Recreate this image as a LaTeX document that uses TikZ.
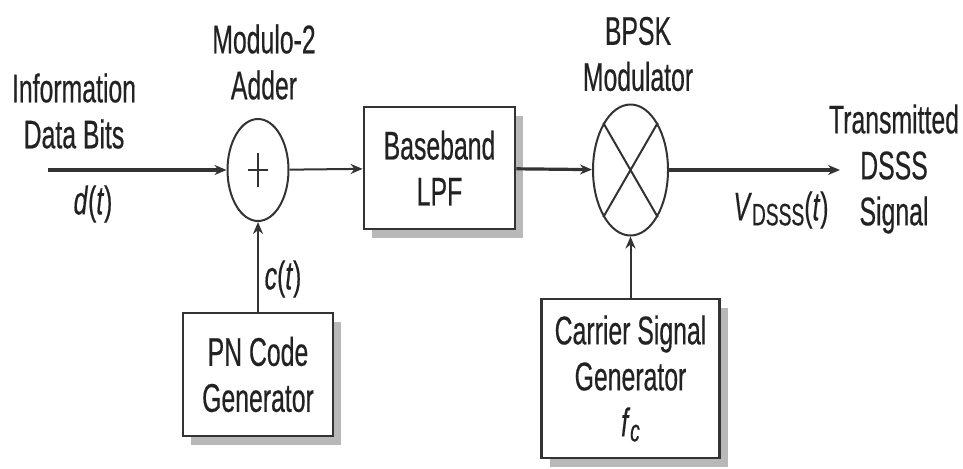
\documentclass[tikz,border=0pt]{standalone}
\usepackage{fontspec}
\setmainfont{Liberation Sans}[FakeStretch=0.62, FakeBold=0.4]
\usepackage{tikz}
\usetikzlibrary{arrows.meta,positioning,shapes.geometric,shadows}
\definecolor{dsink}{HTML}{222222}
\definecolor{dsline}{HTML}{333333}
\definecolor{dsshadow}{HTML}{B8B8B8}
\newcommand{\subtxt}[1]{\raisebox{-2.5pt}{\fontsize{15.5}{15.5}\selectfont #1}}

\begin{document}
\begin{tikzpicture}[x=0.5pt,y=0.5pt,
  font=\fontsize{20}{23}\selectfont, text=dsink,
  blockbox/.style={rectangle, draw=dsline, line width=1.4pt, fill=white, align=center,
               drop shadow={shadow xshift=4pt, shadow yshift=-4.5pt, fill=dsshadow, opacity=1}},
  mixer/.style={ellipse, draw=dsline, line width=1pt, inner sep=0pt},
  lbl/.style={align=center, inner sep=0pt},
  arrow/.style={-{Stealth[length=6pt,width=5pt]}, line width=1.6pt, draw=dsline},
  thinarrow/.style={arrow, line width=1pt}
]
  \useasboundingbox (0,0) rectangle (963,468);
  % main signal path
  \coordinate (din) at (48,298);
  \node[mixer, minimum width=30.5pt, minimum height=51pt] (adder) at (258,298) {};
  \node[blockbox, minimum width=75.5pt, minimum height=61pt] (lpf) at (439.5,300) {Baseband\\LPF};
  \node[mixer, minimum width=37.5pt, minimum height=65.5pt] (bpsk) at (630.5,298) {};
  \coordinate (dout) at (840,298);
  % generators
  \node[blockbox, minimum width=75pt, minimum height=61.5pt] (pngen) at (258,93.5) {PN Code\\Generator};
  \node[blockbox, minimum width=89pt, minimum height=79.5pt] (cargen) at (630.5,89.5)
    {Carrier Signal\\Generator\\\textit{f}\subtxt{\textit{c}}};
  % symbols inside the ellipses
  \draw[dsline, line width=1pt] ([xshift=-5pt]adder.center) -- ([xshift=5pt]adder.center)
    ([yshift=-8.5pt]adder.center) -- ([yshift=8.5pt]adder.center);
  \draw[dsline, line width=1pt] (bpsk.120) -- (bpsk.300) (bpsk.60) -- (bpsk.240);
  % texts
  \node[lbl] (infotxt) at (74,357) {Information\\Data Bits};
  \node[lbl] (dlbl) at (93,264) {\textit{d}(\textit{t})};
  \node[lbl] (addtxt) at (264,406) {Modulo-2\\Adder};
  \node[lbl] (bpsktxt) at (638,414) {BPSK\\Modulator};
  \node[lbl] (outtxt) at (894,299) {Transmitted\\DSSS\\Signal};
  \node[lbl] (vlbl) at (781,258) {\textit{V}\subtxt{DSSS}(\textit{t})};
  \node[lbl] (clbl) at (283,189) {\textit{c}(\textit{t})};
  % connectors
  \draw[arrow] (din) -- (adder);
  \draw[thinarrow] (adder) -- (lpf);
  \draw[arrow] (lpf) -- (bpsk);
  \draw[arrow] (bpsk) -- (dout);
  \draw[thinarrow] (pngen) -- (adder);
  \draw[thinarrow] (cargen) -- (bpsk);
\end{tikzpicture}
\end{document}
